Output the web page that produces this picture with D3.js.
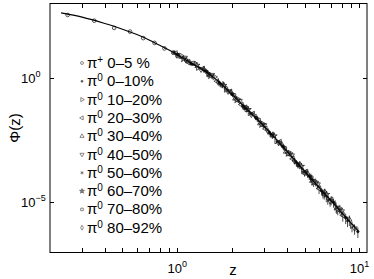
<!DOCTYPE html>
<html>
<head>
<meta charset="utf-8">
<script src="https://cdn.jsdelivr.net/npm/d3@7"></script>
<style>
body { margin: 0; background: #fff; }
text { font-family: "Liberation Sans", Arial, sans-serif; fill: #000; }
</style>
</head>
<body>
<div id="chart"></div>
<script>
// fitted curve
var fitZ   = [0.23, 0.3, 0.4, 0.5, 0.6, 0.7, 0.8, 0.9, 1.0, 1.2, 1.45, 1.7, 2.0, 2.3, 2.7, 3.2, 3.8, 4.5, 5.3, 6.2, 7.2, 8.4, 9.8];
var fitPhi = [4.0e2, 2.7e2, 1.5e2, 8.9e1, 5.4e1, 3.3e1, 2.0e1, 1.3e1, 8.3, 3.8, 1.66, 6.6e-1, 2.1e-1, 7.6e-2, 2.4e-2, 6.8e-3, 1.66e-3, 4.2e-4, 1.07e-4, 3.0e-5, 8.9e-6, 2.5e-6, 7.2e-7];

// pi+ 0-5 %
var pipZ   = [0.25, 0.35, 0.45, 0.55, 0.65, 0.75, 0.85, 0.95, 1.15, 1.45, 1.85, 2.35];
var pipPhi = [3.3e2, 1.95e2, 1.0e2, 7.1e1, 3.9e1, 2.5e1, 1.5e1, 1.0e1, 4.6, 1.7, 3.8e-1, 6.6e-2];
var pipErr = [0.03, 0.03, 0.03, 0.03, 0.03, 0.03, 0.04, 0.04, 0.05, 0.06, 0.08, 0.1];

// pi0 centrality bins
var c0Z   = [1.0, 1.2, 1.45, 1.7, 2.0, 2.3, 2.7, 3.2, 3.8, 4.5, 5.3, 6.2, 7.2, 8.4, 9.8];
var c0Phi = [8.9, 3.55, 1.78, 0.63, 0.224, 0.0708, 0.0251, 6.3e-3, 1.78e-3, 3.98e-4, 1.12e-4, 2.82e-5, 1.0e-5, 2.4e-6, 6.6e-7];
var c0Err = [0.05, 0.05, 0.05, 0.06, 0.08, 0.1, 0.12, 0.15, 0.2, 0.25, 0.3, 0.35, 0.4, 0.45, 0.45];

var c1Z   = [1.05, 1.3, 1.6, 1.85, 2.15, 2.5, 2.95, 3.5, 4.15, 4.9, 5.75, 6.7, 7.8, 9.1];
var c1Phi = [7.6, 2.51, 1.07, 0.331, 0.138, 0.038, 0.0141, 2.82e-3, 9.5e-4, 1.78e-4, 6.6e-5, 1.32e-5, 5.6e-6, 1.12e-6];
var c1Err = [0.05, 0.05, 0.06, 0.07, 0.08, 0.1, 0.12, 0.18, 0.22, 0.3, 0.35, 0.4, 0.4, 0.45];

var c2Z   = [0.98, 1.15, 1.38, 1.65, 1.95, 2.25, 2.6, 3.05, 3.65, 4.3, 5.1, 6.0, 7.0, 8.1];
var c2Phi = [9.5, 4.17, 2.29, 0.724, 0.275, 0.0832, 0.0355, 8.9e-3, 2.63e-3, 5.5e-4, 1.66e-4, 3.55e-5, 1.26e-5, 3.0e-6];
var c2Err = [0.05, 0.05, 0.05, 0.06, 0.08, 0.1, 0.12, 0.15, 0.2, 0.25, 0.3, 0.4, 0.4, 0.45];

var c3Z   = [1.02, 1.25, 1.5, 1.78, 2.08, 2.4, 2.85, 3.35, 3.95, 4.7, 5.5, 6.45, 7.5, 8.8];
var c3Phi = [7.2, 3.55, 1.26, 0.537, 0.145, 0.0617, 0.0148, 5.1e-3, 1.07e-3, 3.3e-4, 7.2e-5, 2.51e-5, 5.6e-6, 2.0e-6];
var c3Err = [0.05, 0.05, 0.06, 0.07, 0.08, 0.1, 0.12, 0.16, 0.2, 0.28, 0.35, 0.4, 0.4, 0.45];

var c4Z   = [1.1, 1.35, 1.55, 1.9, 2.2, 2.55, 3.0, 3.6, 4.25, 5.0, 5.9, 6.9, 8.0, 9.4];
var c4Phi = [6.3, 2.14, 1.29, 0.282, 0.117, 0.0331, 0.0123, 2.4e-3, 7.6e-4, 1.51e-4, 5.2e-5, 1.1e-5, 4.3e-6, 8.9e-7];
var c4Err = [0.05, 0.05, 0.06, 0.07, 0.09, 0.1, 0.13, 0.18, 0.22, 0.3, 0.35, 0.4, 0.4, 0.45];

var c5Z   = [0.96, 1.18, 1.42, 1.72, 2.02, 2.35, 2.75, 3.25, 3.85, 4.6, 5.4, 6.3, 7.35, 8.6];
var c5Phi = [10.7, 3.72, 2.0, 0.562, 0.214, 0.0589, 0.0229, 5.5e-3, 1.62e-3, 3.16e-4, 1.05e-4, 2.34e-5, 8.5e-6, 1.82e-6];
var c5Err = [0.05, 0.05, 0.05, 0.06, 0.08, 0.1, 0.12, 0.16, 0.2, 0.27, 0.33, 0.4, 0.4, 0.45];

var c6Z   = [1.08, 1.28, 1.52, 1.8, 2.12, 2.45, 2.9, 3.4, 4.05, 4.8, 5.6, 6.6, 7.6];
var c6Phi = [5.6, 3.16, 1.17, 0.49, 0.126, 0.0525, 0.0129, 4.6e-3, 8.9e-4, 2.75e-4, 6.3e-5, 2.04e-5, 5.0e-6];
var c6Err = [0.05, 0.05, 0.06, 0.07, 0.08, 0.1, 0.13, 0.17, 0.22, 0.3, 0.35, 0.4, 0.4];

var c7Z   = [1.0, 1.22, 1.48, 1.75, 2.05, 2.4, 2.8, 3.3, 3.9, 4.6, 5.45, 6.4];
var c7Phi = [7.9, 3.9, 1.38, 0.50, 0.195, 0.0513, 0.02, 4.8e-3, 1.45e-3, 3.16e-4, 9.5e-5, 2.1e-5];
var c7Err = [0.05, 0.05, 0.06, 0.07, 0.08, 0.1, 0.12, 0.16, 0.2, 0.27, 0.33, 0.4];

var c8Z   = [1.12, 1.4, 1.68, 1.98, 2.3, 2.7, 3.15, 3.75, 4.4, 5.2];
var c8Phi = [5.0, 2.14, 0.646, 0.245, 0.0692, 0.0263, 6.9e-3, 2.04e-3, 4.5e-4, 1.38e-4];
var c8Err = [0.05, 0.05, 0.06, 0.08, 0.1, 0.12, 0.15, 0.2, 0.27, 0.33];

var legendSup   = ["+", "0", "0", "0", "0", "0", "0", "0", "0", "0"];
var legendRange = ["0\u20135 %", "0\u201310%", "10\u201320%", "20\u201330%", "30\u201340%", "40\u201350%", "50\u201360%", "60\u201370%", "70\u201380%", "80\u201392%"];
var markers     = ["circle", "dot", "right", "left", "up", "down", "asterisk", "star", "square", "diamond"];

var xTicks = [1, 10];
var xTickExp = ["0", "1"];
var yTicks = [1, 1e-5];
var yTickExp = ["0", "\u22125"];

var width = 374, height = 279;
var svg = d3.select("#chart").append("svg")
    .attr("width", width)
    .attr("height", height);

var x = d3.scaleLog().domain([0.2, 11]).range([50, 367]);
var y = d3.scaleLog().domain([1e-7, 1e3]).range([252, 3]);

var series = [
    {z: pipZ, phi: pipPhi, err: pipErr},
    {z: c0Z, phi: c0Phi, err: c0Err},
    {z: c1Z, phi: c1Phi, err: c1Err},
    {z: c2Z, phi: c2Phi, err: c2Err},
    {z: c3Z, phi: c3Phi, err: c3Err},
    {z: c4Z, phi: c4Phi, err: c4Err},
    {z: c5Z, phi: c5Phi, err: c5Err},
    {z: c6Z, phi: c6Phi, err: c6Err},
    {z: c7Z, phi: c7Phi, err: c7Err},
    {z: c8Z, phi: c8Phi, err: c8Err}
];

// marker drawing
function drawMarker(g, type, cx, cy, s, col) {
    var m;
    var t = "translate(" + cx + "," + cy + ")";
    if (type === "circle") {
        m = g.append("circle").attr("cx", cx).attr("cy", cy).attr("r", 1.6 * s).attr("fill", "none");
    } else if (type === "dot") {
        m = g.append("circle").attr("cx", cx).attr("cy", cy).attr("r", 1.1 * s).attr("fill", col);
    } else if (type === "right" || type === "left" || type === "up" || type === "down") {
        var rot = {up: 0, right: 90, down: 180, left: -90}[type];
        m = g.append("path").attr("d", d3.symbol(d3.symbolTriangle, 9 * s * s)())
            .attr("transform", t + " rotate(" + rot + ")").attr("fill", "none");
    } else if (type === "asterisk") {
        var r = 1.8 * s, a = r * 0.87, b = r * 0.5;
        m = g.append("path")
            .attr("d", "M0," + (-r) + "V" + r + "M" + (-a) + "," + (-b) + "L" + a + "," + b + "M" + (-a) + "," + b + "L" + a + "," + (-b))
            .attr("transform", t).attr("fill", "none");
    } else if (type === "star") {
        m = g.append("path").attr("d", d3.symbol(d3.symbolStar, 9 * s * s)())
            .attr("transform", t).attr("fill", "#888");
    } else if (type === "square") {
        m = g.append("path").attr("d", d3.symbol(d3.symbolSquare, 8 * s * s)())
            .attr("transform", t).attr("fill", "none");
    } else {
        m = g.append("path").attr("d", d3.symbol(d3.symbolDiamond, 8 * s * s)())
            .attr("transform", t).attr("fill", "none");
    }
    m.attr("stroke", col).attr("stroke-width", 0.7);
}

// data points with error bars
var gData = svg.append("g").attr("class", "data");
series.forEach(function (s, i) {
    s.z.forEach(function (zv, j) {
        var p = s.phi[j], e = s.err[j];
        gData.append("line")
            .attr("x1", x(zv)).attr("x2", x(zv))
            .attr("y1", y(p * (1 - e))).attr("y2", y(p * (1 + e)))
            .attr("stroke", "#222").attr("stroke-width", 0.8);
        drawMarker(gData, markers[i], x(zv), y(p), 1.15, "#111");
    });
});

// fit line
var fit = fitZ.map(function (d, i) { return [d, fitPhi[i]]; });
svg.append("path")
    .datum(fit)
    .attr("fill", "none")
    .attr("stroke", "#000")
    .attr("stroke-width", 1.1)
    .attr("d", d3.line()
        .x(function (d) { return x(d[0]); })
        .y(function (d) { return y(d[1]); })
        .curve(d3.curveMonotoneX));

// frame
svg.append("line").attr("x1", 50).attr("x2", 367).attr("y1", 252.5).attr("y2", 252.5).attr("stroke", "#000");
svg.append("line").attr("x1", 50).attr("x2", 367).attr("y1", 3.5).attr("y2", 3.5).attr("stroke", "#000");
svg.append("line").attr("x1", 50).attr("x2", 50).attr("y1", 3).attr("y2", 253).attr("stroke", "#000");
svg.append("line").attr("x1", 367).attr("x2", 367).attr("y1", 3).attr("y2", 253).attr("stroke", "#000");

// x ticks (minor + major) on bottom and top
var xAll = [0.2, 0.3, 0.4, 0.5, 0.6, 0.7, 0.8, 0.9, 1, 2, 3, 4, 5, 6, 7, 8, 9, 10];
var tickLen = 4;
xAll.forEach(function (v) {
    var px = Math.round(x(v)) + 0.5;
    if (px < 52 || px > 366) return;
    svg.append("line").attr("x1", px).attr("x2", px).attr("y1", 252).attr("y2", 252 - tickLen).attr("stroke", "#000").attr("stroke-width", 1);
    svg.append("line").attr("x1", px).attr("x2", px).attr("y1", 4).attr("y2", 4 + tickLen).attr("stroke", "#000").attr("stroke-width", 1);
});
yTicks.forEach(function (v) {
    var py = Math.round(y(v)) + 0.5;
    svg.append("line").attr("x1", 50).attr("x2", 50 + tickLen).attr("y1", py).attr("y2", py).attr("stroke", "#000");
    svg.append("line").attr("x1", 367).attr("x2", 367 - tickLen).attr("y1", py).attr("y2", py).attr("stroke", "#000");
});

// tick labels
xTicks.forEach(function (v, i) {
    var t = svg.append("text")
        .attr("x", x(v))
        .attr("y", 273)
        .attr("text-anchor", "middle")
        .attr("font-size", "13px");
    t.append("tspan").text("10");
    t.append("tspan").attr("dy", -6).attr("font-size", "9px").text(xTickExp[i]);
});
yTicks.forEach(function (v, i) {
    var t = svg.append("text")
        .attr("x", 21)
        .attr("y", y(v) + 5)
        .attr("text-anchor", "start")
        .attr("font-size", "13px");
    t.append("tspan").text("10");
    t.append("tspan").attr("dy", -6).attr("font-size", "9px").text(yTickExp[i]);
});

// axis labels
svg.append("text")
    .attr("x", 233)
    .attr("y", 275)
    .attr("text-anchor", "middle")
    .attr("font-size", "15px")
    .text("z");
svg.append("text")
    .attr("transform", "translate(20,128) rotate(-90)")
    .attr("text-anchor", "middle")
    .attr("font-size", "15px")
    .text("\u03a6(z)");

// legend
var gLeg = svg.append("g").attr("class", "legend");
legendRange.forEach(function (lab, i) {
    var ly = 63 + 18.3 * i;
    drawMarker(gLeg, markers[i], 82, ly, 0.9, "#555");
    var t = gLeg.append("text")
        .attr("x", 87)
        .attr("y", ly + 5)
        .attr("font-size", "15px");
    t.append("tspan").text("\u03c0");
    t.append("tspan").attr("dy", -5).attr("font-size", "10px").text(legendSup[i]);
    t.append("tspan").attr("dy", 5).text(" " + lab);
});
</script>
</body>
</html>
